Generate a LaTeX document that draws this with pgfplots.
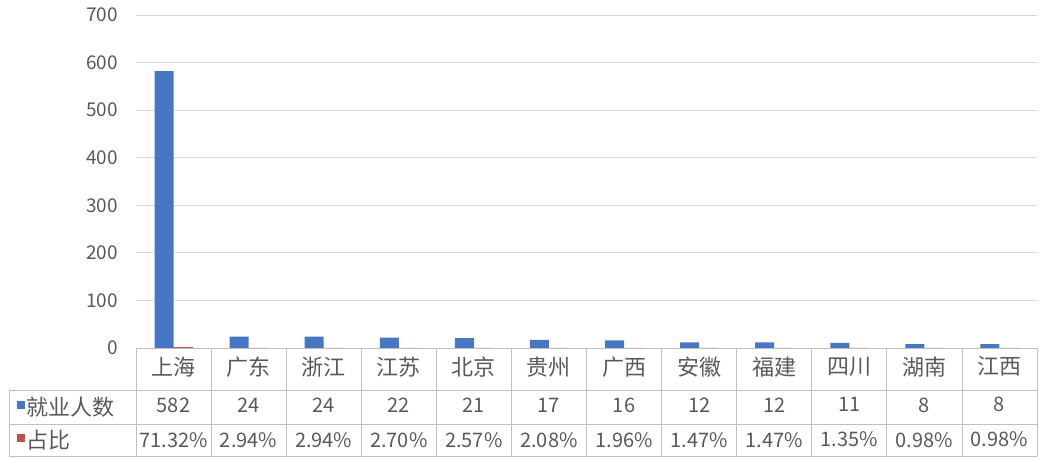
\documentclass[border=0pt]{standalone}
\usepackage{fontspec}
\setmainfont{Noto Sans CJK SC}
\usepackage{pgfplots}
\pgfplotsset{compat=1.18}
\usepackage{pgfplotstable}
\definecolor{barblue}{HTML}{4677C2}
\definecolor{barred}{HTML}{C0504D}
\definecolor{txt}{HTML}{595959}
\definecolor{gridc}{HTML}{D9D9D9}
\definecolor{tabc}{HTML}{BFBFBF}

\pgfplotstableread{
x count pct
0 582 0.7132
1 24 0.0294
2 24 0.0294
3 22 0.0270
4 21 0.0257
5 17 0.0208
6 16 0.0196
7 12 0.0147
8 12 0.0147
9 11 0.0135
10 8 0.0098
11 8 0.0098
}\data

\newcommand{\nf}{\fontsize{20}{35}\selectfont}

\begin{document}
\begin{tikzpicture}[x=1pt,y=1pt]
\useasboundingbox (-136,-110) rectangle (908,348);
\begin{axis}[
  at={(0,0)}, anchor=south west,
  width=901pt, height=333pt, scale only axis,
  xmin=-0.5, xmax=11.5, ymin=0, ymax=700,
  ytick={0,100,...,700},
  ymajorgrids, grid style={gridc, line width=0.8pt},
  axis line style={draw=none},
  major tick length=0pt,
  xtick={0,...,11},
  xticklabels={
    {上海\\[2pt]{\nf 582}\\{\nf 71.32\%}},
    {广东\\[2pt]{\nf 24}\\{\nf 2.94\%}},
    {浙江\\[2pt]{\nf 24}\\{\nf 2.94\%}},
    {江苏\\[2pt]{\nf 22}\\{\nf 2.70\%}},
    {北京\\[2pt]{\nf 21}\\{\nf 2.57\%}},
    {贵州\\[2pt]{\nf 17}\\{\nf 2.08\%}},
    {广西\\[2pt]{\nf 16}\\{\nf 1.96\%}},
    {安徽\\[2pt]{\nf 12}\\{\nf 1.47\%}},
    {福建\\[2pt]{\nf 12}\\{\nf 1.47\%}},
    {四川\\[2pt]{\nf 11}\\{\nf 1.35\%}},
    {湖南\\[2pt]{\nf 8}\\{\nf 0.98\%}},
    {江西\\[2pt]{\nf 8}\\{\nf 0.98\%}}
  },
  xticklabel style={anchor=north, align=center, inner sep=0pt, yshift=-8.6pt,
    font=\fontsize{22}{35}\selectfont, text=txt},
  yticklabel style={anchor=east, inner sep=0pt, xshift=-18pt,
    font=\fontsize{19}{19}\selectfont, text=txt},
  /pgf/number format/assume math mode=true,
  ybar=0pt, bar width=19pt,
  clip=false,
]
\addplot[fill=barblue, draw=none] table[x=x, y=count]{\data};
\addplot[fill=barred, draw=barred, line width=0.5pt] table[x=x, y=pct]{\data};
\end{axis}
% table grid
\draw[tabc, line width=0.8pt] (0,0) -- (901,0);
\draw[tabc, line width=0.8pt] (-127,-42) -- (901,-42);
\draw[tabc, line width=0.8pt] (-127,-76) -- (901,-76);
\draw[tabc, line width=0.8pt] (-127,-108) -- (901,-108);
\draw[tabc, line width=0.8pt] (-127,-42) -- (-127,-108);
\foreach \k in {0,...,12}{
  \draw[tabc, line width=0.8pt] ({\k*901/12},0) -- ({\k*901/12},-108);
}
\node[anchor=west, inner sep=0pt, text=txt, font=\fontsize{22}{22}\selectfont] at (-119,-59)
  {\textcolor{barblue}{\raisebox{6.5pt}{\rule{8pt}{8pt}}}\hspace{1pt}就业人数};
\node[anchor=west, inner sep=0pt, text=txt, font=\fontsize{22}{22}\selectfont] at (-119,-92)
  {\textcolor{barred}{\raisebox{6.5pt}{\rule{8pt}{8pt}}}\hspace{1pt}占比};
\end{tikzpicture}
\end{document}
